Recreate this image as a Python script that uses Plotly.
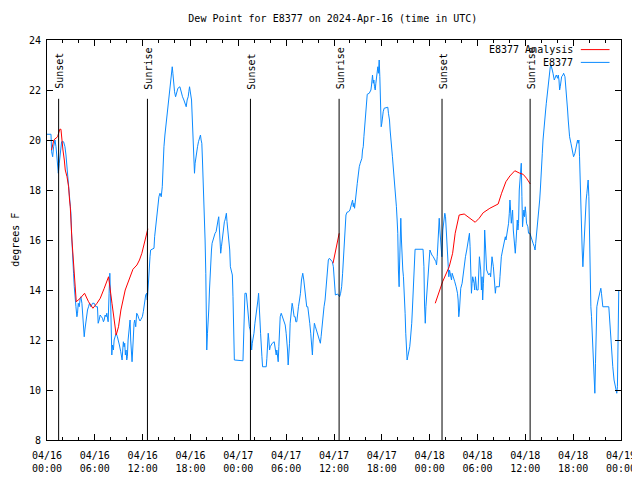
import pandas as pd
import plotly.graph_objects as go

# ---------------- data (hours since 2024-04-16 00:00 UTC, dew point in F) -------------
obs_hours = [
 0.00,0.50,0.58,0.71,0.83,1.00,1.13,1.25,1.33,1.42,1.54,1.67,1.83,2.08,2.25,2.38,2.50,2.58,2.67,2.79,
 2.92,3.00,3.08,3.17,3.25,3.33,3.42,3.50,3.63,3.75,3.83,3.92,4.04,4.17,4.25,4.38,4.50,4.58,4.67,4.75,
 4.88,5.00,5.08,5.21,5.33,5.50,5.71,5.92,6.13,6.33,6.42,6.54,6.67,6.83,6.96,7.08,7.17,7.29,7.42,7.50,
 7.67,7.79,7.88,7.96,8.04,8.13,8.21,8.33,8.42,8.54,8.67,8.83,8.96,9.08,9.25,9.33,9.42,9.50,9.58,9.67,
 9.75,9.83,9.92,10.00,10.08,10.17,10.25,10.33,10.42,10.50,10.58,10.67,10.75,10.83,10.92,11.00,11.13,11.25,11.38,11.50,
 11.67,11.79,11.96,12.08,12.25,12.38,12.50,12.58,12.67,12.75,12.83,12.92,13.00,13.42,13.50,13.63,13.75,13.92,14.04,14.17,
 14.25,14.33,14.46,14.54,14.67,14.79,14.92,15.08,15.21,15.33,15.50,15.63,15.71,15.79,15.88,16.00,16.13,16.25,16.42,16.67,
 16.75,16.88,17.00,17.17,17.33,17.46,17.58,17.71,17.79,17.88,
 18.13,18.25,18.33,18.42,18.50,18.58,18.67,18.75,18.88,19.00,19.13,19.25,19.33,19.42,19.50,19.58,19.67,19.75,19.83,19.92,
 19.96,20.04,20.13,20.21,20.29,20.38,20.46,20.54,20.63,20.71,20.83,20.96,21.08,21.21,21.33,21.46,21.54,21.63,21.71,21.79,
 21.88,21.96,22.04,22.13,22.25,22.33,22.42,22.50,22.58,22.67,22.79,22.92,23.00,23.13,23.25,23.33,23.42,23.50,24.58,24.67,
 24.75,24.83,25.00,25.13,25.25,25.38,25.50,25.58,25.67,25.75,25.83,25.96,26.08,26.21,26.33,26.46,26.54,26.63,26.71,26.79,
 26.88,26.96,27.04,27.50,27.58,27.67,27.75,27.83,27.92,28.00,28.25,28.50,28.58,28.67,28.75,28.83,28.92,29.00,29.08,29.17,
 29.25,29.38,29.50,29.63,29.75,29.88,30.00,30.08,30.17,30.25,30.33,30.42,30.50,30.63,30.75,30.83,30.92,31.00,31.13,31.21,
 31.33,31.42,31.54,31.67,31.79,31.92,32.08,32.21,32.33,32.46,32.58,32.71,32.83,32.96,33.08,33.21,33.29,33.38,33.46,33.54,
 33.67,33.79,33.92,34.04,34.17,34.29,34.38,34.50,34.58,34.67,34.75,34.88,34.96,35.04,35.13,35.21,35.29,35.42,35.67,35.79,
 35.92,36.00,36.08,36.17,36.46,36.71,
 36.83,36.96,37.08,37.17,37.25,37.33,37.42,37.50,37.63,37.83,38.00,38.13,38.25,38.33,38.42,38.50,38.58,38.67,38.75,38.83,
 38.92,39.00,39.08,39.17,39.29,39.42,39.50,39.58,39.67,39.75,39.83,39.92,40.00,40.08,40.17,40.42,40.54,40.63,40.71,40.79,
 40.83,40.92,41.00,41.08,41.17,41.25,41.33,41.42,41.50,41.58,41.67,41.75,41.83,41.92,42.00,42.08,42.17,42.29,42.75,42.83,
 42.96,43.04,43.17,43.25,43.33,43.46,43.54,43.63,43.75,43.83,43.92,44.00,44.08,44.17,44.21,44.29,44.38,44.46,44.54,44.63,
 44.71,44.83,44.92,45.00,45.08,45.17,45.25,45.42,45.50,45.58,45.67,45.75,45.83,45.92,46.00,46.08,46.17,47.17,
 47.28,47.36,47.45,47.53,47.61,47.70,47.78,47.86,47.95,48.03,48.28,48.45,48.78,48.86,48.95,49.03,49.11,49.20,49.28,49.36,
 49.45,49.53,49.65,49.74,49.82,49.90,49.99,50.07,50.15,50.24,50.32,50.40,50.49,50.65,50.74,50.82,50.99,51.15,51.32,51.49,
 51.57,51.65,51.74,51.82,51.90,52.07,52.15,52.24,52.32,52.49,52.65,52.82,52.90,52.99,53.07,53.15,53.24,53.32,53.40,53.57,
 53.65,53.74,53.90,54.07,54.15,54.24,54.40,54.49,54.57,54.65,54.74,54.82,54.90,54.99,55.07,55.15,55.40,55.57,55.65,55.74,
 55.82,55.99,56.15,56.24,56.32,56.57,56.74,56.82,56.90,56.99,57.15,57.32,57.49,57.57,57.74,57.82,57.90,57.99,58.07,58.15,
 58.24,58.32,58.40,58.49,58.57,58.65,58.74,58.82,58.90,58.99,59.07,59.15,59.24,59.32,59.40,59.49,59.57,59.65,59.74,59.82,
 59.90,59.99,60.07,60.15,60.32,60.40,60.57,
 60.80,60.97,61.13,61.22,61.30,61.47,61.63,61.80,61.88,61.97,62.05,62.13,62.22,62.30,62.38,62.47,62.55,62.63,62.72,62.80,
 62.88,62.97,63.05,63.13,63.22,63.30,63.38,63.47,63.63,63.72,63.88,64.05,64.13,64.22,64.30,64.38,64.47,64.55,64.72,64.80,
 64.97,65.05,65.13,65.22,65.30,65.38,65.47,65.55,65.72,65.88,66.05,66.22,66.38,66.55,66.63,66.72,66.80,66.88,66.97,67.05,
 67.13,67.22,67.30,67.38,67.47,67.55,67.63,67.72,67.80,67.88,67.97,68.05,68.13,68.22,68.30,68.38,68.47,68.55,68.63,68.72,
 68.80,68.88,68.97,69.13,69.30,69.47,69.55,69.63,69.72,70.47,70.55,70.63,70.72,70.80,70.88,70.97,71.13,71.30,71.47,71.55,
 71.63,71.72,
]
obs_dewpt = [
 20.23,20.23,19.53,19.33,19.73,20.00,19.73,19.27,18.87,18.67,19.07,19.47,19.93,19.93,19.73,19.40,18.93,18.40,18.13,17.53,
 17.13,17.07,16.27,15.47,14.93,14.67,14.13,13.60,13.33,12.93,13.07,13.47,13.33,13.67,13.73,13.47,12.93,12.80,12.13,12.40,
 12.73,12.93,13.20,13.33,13.47,13.33,13.47,13.47,13.33,13.33,12.67,12.80,13.00,12.93,12.87,12.73,12.80,13.00,12.93,13.07,
 12.73,13.87,14.67,13.87,12.27,11.40,11.80,11.60,12.00,12.20,12.27,12.13,11.87,11.80,11.53,11.40,11.20,11.60,11.93,11.73,
 11.87,11.40,11.60,11.20,11.33,12.00,12.40,12.73,12.80,12.00,11.40,11.13,11.60,12.27,12.67,12.80,12.53,13.07,13.00,12.87,
 12.76,12.83,12.93,13.13,13.53,13.80,13.87,13.60,14.00,14.67,15.07,15.33,15.60,15.67,16.13,16.53,17.00,17.33,17.73,17.87,
 17.73,17.73,18.13,18.93,19.73,20.20,20.60,21.07,21.47,21.93,22.40,22.73,22.93,22.67,22.27,21.93,21.73,21.87,22.07,22.13,
 22.00,21.87,21.73,21.60,21.47,21.33,21.60,21.73,21.93,22.13,
 21.60,20.67,19.73,19.07,18.67,19.07,19.33,19.60,19.73,19.93,20.13,20.20,20.00,19.87,19.20,18.53,17.87,17.07,16.00,14.67,
 13.07,11.60,12.27,12.67,13.20,14.00,14.67,15.33,15.60,15.87,16.00,16.20,16.27,16.33,16.67,16.80,16.93,16.40,16.00,15.47,
 15.73,16.00,16.27,16.53,16.73,16.80,16.93,17.07,16.73,16.40,16.00,15.60,14.93,14.67,14.60,13.73,12.00,11.20,11.17,12.27,
 13.07,13.87,13.87,13.33,12.93,12.53,12.40,12.00,11.60,11.87,12.00,12.27,12.67,12.93,13.33,13.60,13.87,13.47,12.80,12.27,
 11.47,11.33,10.93,10.93,11.27,11.87,12.27,12.00,11.60,11.73,11.87,11.93,11.73,11.60,11.40,11.60,11.33,11.13,11.73,12.40,
 12.93,13.07,12.93,12.87,12.73,12.60,12.27,12.00,11.60,11.00,11.33,11.87,12.67,13.07,13.47,13.33,13.07,12.93,12.93,12.73,
 12.73,13.07,13.33,13.60,13.87,14.40,14.67,14.40,14.00,13.60,13.33,13.33,13.07,12.67,12.27,11.87,11.40,12.00,12.53,12.67,
 12.53,12.40,12.27,12.13,12.00,11.87,12.13,12.53,12.93,13.20,13.33,13.60,13.87,14.13,14.40,14.80,15.20,15.27,15.20,15.13,
 14.93,14.53,14.13,13.80,13.84,13.73,
 13.87,14.13,14.67,15.20,15.73,16.27,16.80,17.00,17.11,17.13,17.20,17.33,17.47,17.60,17.33,17.47,17.27,17.47,17.73,18.00,
 18.27,18.53,18.80,18.93,19.07,19.20,19.27,19.60,19.73,20.13,20.53,20.93,21.33,21.73,21.83,21.87,21.93,22.00,22.20,22.40,
 22.60,22.27,22.40,22.13,22.00,22.27,22.53,22.67,22.93,22.67,23.20,22.53,21.20,20.53,20.67,20.93,21.13,21.27,21.31,21.07,
 20.80,20.40,20.00,19.73,19.33,18.80,18.53,18.27,17.73,17.33,16.80,16.27,14.80,14.13,14.80,16.27,16.87,16.00,14.80,14.80,
 14.53,13.87,13.07,12.27,11.60,11.20,11.33,11.53,11.73,12.00,12.27,12.67,13.20,13.73,14.27,15.20,15.63,15.63,
 14.93,13.40,12.67,13.33,13.73,14.27,14.80,15.20,15.33,15.60,15.40,15.33,15.13,15.00,15.33,16.00,16.67,16.87,16.40,16.00,
 15.73,15.33,16.40,16.67,16.93,17.07,16.93,16.40,15.87,15.33,14.93,14.53,14.80,14.53,14.40,14.67,14.53,14.33,14.13,13.87,
 13.60,12.93,13.20,13.73,14.07,14.27,14.53,14.80,15.07,15.33,15.60,15.87,16.13,16.27,15.73,14.80,13.87,14.27,14.53,14.27,
 14.00,14.53,14.00,14.00,15.07,15.33,14.80,14.00,14.53,13.60,14.27,14.80,16.40,15.87,15.20,14.80,14.60,14.67,14.53,15.07,
 15.33,14.93,14.27,13.87,14.13,14.13,14.13,14.53,15.07,15.33,15.60,15.87,16.13,16.00,16.27,16.40,16.67,17.07,17.60,17.20,
 16.67,16.93,17.20,16.40,16.00,15.73,15.47,15.87,16.40,16.80,16.40,16.67,18.00,18.27,18.80,19.07,17.73,16.53,16.93,17.20,
 16.93,17.33,17.07,16.67,16.53,16.27,16.27,
 16.00,15.87,15.73,15.60,15.87,16.40,16.93,17.60,18.00,18.40,18.93,19.47,20.00,20.40,20.67,20.93,21.20,21.47,21.73,22.00,
 22.40,22.67,22.80,22.93,23.00,22.93,22.80,22.67,22.40,22.47,22.60,22.47,22.60,22.40,22.00,22.13,22.40,22.53,22.60,22.67,
 22.53,22.27,21.87,21.47,21.20,20.80,20.40,20.13,19.87,19.60,19.33,19.47,19.73,20.00,19.87,20.00,19.33,18.13,17.07,16.27,
 15.60,14.93,15.47,16.27,16.80,17.20,17.60,17.87,18.13,18.40,17.73,16.00,14.67,13.33,12.93,12.40,12.00,11.20,10.67,9.87,
 11.07,12.53,13.33,13.60,13.87,14.07,13.87,13.60,13.33,13.33,12.93,12.53,12.00,11.47,11.20,10.93,10.40,10.13,9.87,10.13,
 12.00,14.00,
]

ana1_hours = [0.58,0.85,1.33,1.60,1.75,1.88,2.00,2.17,2.29,2.51,2.71,2.83,2.92,3.13,3.33,3.46,3.67,4.17,4.71,5.21,
              5.76,6.27,6.68,7.18,7.72,8.15,8.43,8.68,8.97,9.27,9.81,10.23,10.78,11.28,11.60,11.90,12.32,12.65]
ana1_dewpt = [19.60,20.00,20.13,20.43,20.43,19.87,19.60,19.20,18.80,18.53,18.13,17.60,17.33,16.00,14.93,14.40,13.53,13.67,13.87,13.53,
              13.27,13.47,13.67,14.07,14.53,13.47,12.80,12.20,12.53,13.20,14.00,14.40,14.83,15.00,15.20,15.47,16.00,16.45]
ana2_hours = [35.88,36.25,36.65]
ana2_dewpt = [15.07,15.60,16.27]
ana3_hours = [48.70,49.62,50.45,50.88,51.20,51.50,51.70,52.33,52.76,53.71,54.21,54.71,55.55,56.59,57.02,57.56,58.06,58.68,
              59.31,59.72,60.15,60.62]
ana3_dewpt = [13.47,14.33,14.93,15.47,16.27,16.80,17.00,17.04,16.93,16.71,16.87,17.09,17.27,17.44,17.87,18.33,18.56,18.77,
              18.67,18.63,18.47,18.24]

sunset_hours = [1.46, 25.52, 49.55]
sunrise_hours = [12.60, 36.64, 60.60]

start = pd.Timestamp("2024-04-16 00:00")
def to_time(hours):
    return [None if h is None else start + pd.Timedelta(hours=h) for h in hours]

ana_hours = ana1_hours + [None] + ana2_hours + [None] + ana3_hours
ana_dewpt = ana1_dewpt + [None] + ana2_dewpt + [None] + ana3_dewpt

RED = "#ff0000"
BLUE = "#0a8aff"
FONT = "DejaVu Sans Mono"

fig = go.Figure()
fig.add_trace(go.Scatter(x=to_time(obs_hours), y=obs_dewpt, mode="lines",
                         line=dict(color=BLUE, width=1), name="E8377", connectgaps=False))
fig.add_trace(go.Scatter(x=to_time(ana_hours), y=ana_dewpt, mode="lines",
                         line=dict(color=RED, width=1), name="E8377 Analysis", connectgaps=False))

# sunset / sunrise markers
for label, hrs in (("Sunset", sunset_hours), ("Sunrise", sunrise_hours)):
    for t in to_time(hrs):
        fig.add_shape(type="line", xref="x", yref="paper", x0=t, x1=t, y0=0, y1=0.853,
                      line=dict(color="black", width=1), layer="above")
        fig.add_annotation(x=t, y=0.872, xref="x", yref="paper", text=label, showarrow=False,
                           textangle=-90, yanchor="bottom", xanchor="center", xshift=1,
                           font=dict(family=FONT, size=10, color="black"))

# gnuplot-style legend (text then line sample)
for txt, col, yp in (("E8377 Analysis", RED, 0.976), ("E8377", BLUE, 0.944)):
    fig.add_annotation(x=0.920, y=yp, xref="paper", yref="paper", text=txt, showarrow=False,
                       xanchor="right", yanchor="middle", font=dict(family=FONT, size=10, color="black"))
    fig.add_shape(type="line", xref="paper", yref="paper", x0=0.930, x1=0.980, y0=yp, y1=yp,
                  line=dict(color=col, width=1))

fig.add_annotation(x=-0.056, y=0.5, xref="paper", yref="paper", text="degrees F", showarrow=False,
                   textangle=-90, xanchor="center", yanchor="middle",
                   font=dict(family=FONT, size=10, color="black"))

# the page body adds an 8px offset, so the figure is sized to fit the 640x480 window
fig.update_layout(
    width=632, height=472,
    margin=dict(l=39, r=19, t=32, b=40),
    paper_bgcolor="white", plot_bgcolor="white",
    showlegend=False,
    font=dict(family=FONT, size=10, color="black"),
    title=dict(text="Dew Point for E8377 on 2024-Apr-16 (time in UTC)", x=0.514, xanchor="center",
               y=0.977, yanchor="middle", font=dict(family=FONT, size=10, color="black")),
)
fig.update_xaxes(
    type="date", automargin=False,
    range=[start, start + pd.Timedelta(hours=72)],
    tick0=start, dtick=6 * 3600 * 1000, tickformat="%m/%d<br>%H:%M",
    ticks="inside", ticklen=6, tickcolor="black", ticklabelstandoff=6,
    minor=dict(dtick=2 * 3600 * 1000, ticks="inside", ticklen=3, tickcolor="black"),
    showline=True, linecolor="black", linewidth=1, mirror="ticks",
    showgrid=False, zeroline=False,
    tickfont=dict(family=FONT, size=10, color="black"),
)
fig.update_yaxes(
    automargin=False,
    range=[8, 24], dtick=2, tick0=8,
    ticks="inside", ticklen=6, tickcolor="black", ticklabelstandoff=3,
    showline=True, linecolor="black", linewidth=1, mirror="ticks",
    showgrid=False, zeroline=False,
    tickfont=dict(family=FONT, size=10, color="black"),
)

fig.write_html("out.html")
